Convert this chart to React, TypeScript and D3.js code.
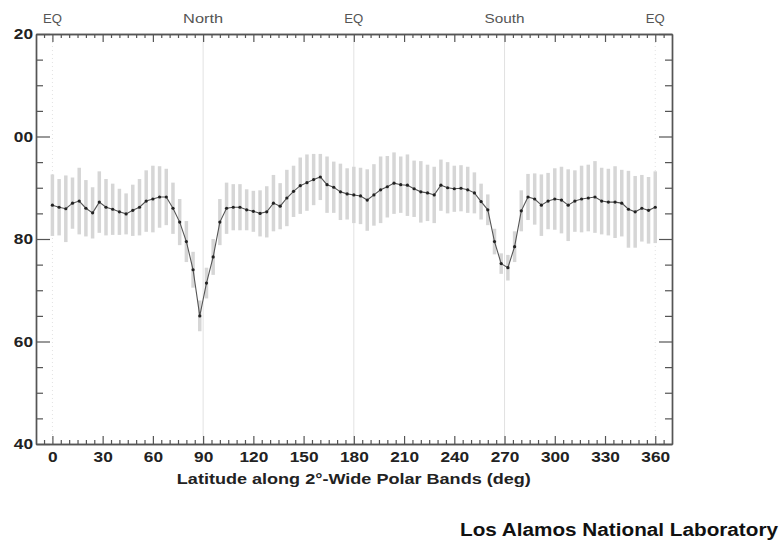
import React, { useRef, useEffect } from "react";
import * as d3 from "d3";

// band centres (deg along the polar band track)
const bands = [
  0, 4, 8, 12, 16, 20, 24, 28, 32, 36, 40, 44, 48, 52, 56, 60, 64, 68, 72, 76,
  80, 84, 88, 92, 96, 100, 104, 108, 112, 116, 120, 124, 128, 132, 136, 140,
  144, 148, 152, 156, 160, 164, 168, 172, 176, 180, 184, 188, 192, 196, 200,
  204, 208, 212, 216, 220, 224, 228, 232, 236, 240, 244, 248, 252, 256, 260,
  264, 268, 272, 276, 280, 284, 288, 292, 296, 300, 304, 308, 312, 316, 320,
  324, 328, 332, 336, 340, 344, 348, 352, 356, 360,
];

// mean value per band
const means = [
  86.6, 86.2, 85.9, 87.0, 87.4, 86.0, 85.1, 87.2, 86.2, 85.8, 85.3, 84.9, 85.6,
  86.2, 87.4, 87.8, 88.2, 88.2, 86.0, 83.3, 79.5, 74.0, 65.0, 71.4, 76.5, 83.3,
  86.0, 86.2, 86.2, 85.7, 85.4, 85.0, 85.3, 87.0, 86.4, 88.0, 89.3, 90.4, 91.0,
  91.6, 92.1, 90.6, 90.1, 89.2, 88.8, 88.6, 88.4, 87.6, 88.6, 89.6, 90.2, 90.9,
  90.6, 90.5, 89.8, 89.2, 89.0, 88.6, 90.5, 90.0, 89.8, 89.9, 89.6, 89.0, 87.3,
  85.7, 79.5, 75.2, 74.4, 78.5, 85.5, 88.2, 87.8, 86.6, 87.4, 87.8, 87.6, 86.6,
  87.4, 87.8, 88.0, 88.2, 87.4, 87.2, 87.2, 87.0, 85.8, 85.3, 86.0, 85.6, 86.2,
];

// spread (half height of the grey bars)
const spreads = [
  6, 5.5, 6.5, 5, 6.5, 5.5, 5, 6, 5.5, 5, 4.5, 4, 5, 5.5, 6, 6.5, 6, 5.5, 5,
  4.5, 4, 3.5, 3, 3, 3.5, 4.5, 5, 4.5, 4.5, 4, 4, 4.5, 5, 5.5, 4.5, 5.5, 5, 5.5,
  5.5, 5, 4.5, 5.5, 5, 5.5, 5, 5.5, 5.5, 6, 6, 6.5, 6, 6, 5.5, 6, 5.5, 6, 5.5,
  5.5, 5, 5, 4.5, 4.5, 4.5, 4, 3.5, 3, 2.5, 2, 2.5, 3, 4, 4.5, 5, 6, 5.5, 6,
  6.5, 7, 6, 6.5, 6.5, 7, 6.5, 6.5, 7, 6.5, 7.5, 7, 6.5, 6.5, 7,
];

const xTicks = [0, 30, 60, 90, 120, 150, 180, 210, 240, 270, 300, 330, 360];
const yTicks = [40, 60, 80, 100, 120];
const topLabels = [
  { deg: 0, name: "EQ" },
  { deg: 90, name: "North" },
  { deg: 180, name: "EQ" },
  { deg: 270, name: "South" },
  { deg: 360, name: "EQ" },
];

const App = () => {
  const svgRef = useRef<SVGSVGElement>(null);

  useEffect(() => {
    const W = 780;
    const H = 542;
    const margin = { top: 34, right: 108, bottom: 98, left: 36 };
    const width = W - margin.left - margin.right;
    const height = H - margin.top - margin.bottom;

    const svg = d3.select(svgRef.current);
    svg.selectAll("*").remove();

    svg.append("rect").attr("width", W).attr("height", H).attr("fill", "white");

    const chart = svg
      .append("g")
      .attr("transform", `translate(${margin.left}, ${margin.top})`);

    const x = d3.scaleLinear().domain([-9.8, 370]).range([0, width]);
    const y = d3.scaleLinear().domain([40, 120]).range([height, 0]);

    const data = bands.map((b, i) => ({ b, m: means[i], s: spreads[i] }));

    // faint reference lines at the equator / poles
    chart
      .selectAll(".ref")
      .data(topLabels)
      .enter()
      .append("line")
      .attr("x1", (d) => x(d.deg))
      .attr("x2", (d) => x(d.deg))
      .attr("y1", 0)
      .attr("y2", height)
      .attr("stroke", "#e2e2e2")
      .attr("stroke-width", 1)
      .attr("stroke-dasharray", (d) => (d.deg % 180 === 0 && d.deg !== 180 ? "1,3" : null));

    // grey spread bars
    chart
      .selectAll(".bar")
      .data(data)
      .enter()
      .append("line")
      .attr("x1", (d) => x(d.b))
      .attr("x2", (d) => x(d.b))
      .attr("y1", (d) => y(d.m + d.s))
      .attr("y2", (d) => y(d.m - d.s))
      .attr("stroke", "#d6d6d6")
      .attr("stroke-width", 3.5);

    // mean curve
    const line = d3
      .line<{ b: number; m: number }>()
      .x((d) => x(d.b))
      .y((d) => y(d.m));

    chart
      .append("path")
      .datum(data)
      .attr("d", line)
      .attr("fill", "none")
      .attr("stroke", "#555")
      .attr("stroke-width", 1.1);

    chart
      .selectAll(".pt")
      .data(data)
      .enter()
      .append("circle")
      .attr("cx", (d) => x(d.b))
      .attr("cy", (d) => y(d.m))
      .attr("r", 1.6)
      .attr("fill", "#222");

    // axes
    const font = "'Liberation Sans', Arial, sans-serif";
    const styleAxis = (g) => {
      g.select(".domain").attr("stroke", "#555").attr("stroke-width", 1.4);
      g.selectAll(".tick line").attr("stroke", "#555").attr("stroke-width", 1.2);
      g.selectAll("text")
        .attr("font-family", font)
        .attr("font-weight", "bold")
        .attr("font-size", 15)
        .attr("fill", "#222")
        .attr("lengthAdjust", "spacingAndGlyphs")
        .attr("textLength", function () {
          const t = (this as SVGTextElement).textContent || "";
          return t.length ? t.length * 9.6 : null;
        });
    };

    const minorX = d3.range(-5, 370, 5).filter((d) => d % 30 !== 0);
    const minorY = d3.range(40, 121, 5).filter((d) => d % 20 !== 0);

    // bottom
    chart
      .append("g")
      .attr("transform", `translate(0, ${height})`)
      .call(d3.axisBottom(x).tickValues(minorX).tickSize(-4).tickSizeOuter(0).tickFormat(() => ""))
      .call(styleAxis);
    chart
      .append("g")
      .attr("transform", `translate(0, ${height})`)
      .call(d3.axisBottom(x).tickValues(xTicks).tickSize(-8).tickSizeOuter(0).tickPadding(7))
      .call(styleAxis);

    // top
    chart
      .append("g")
      .call(d3.axisTop(x).tickValues(minorX).tickSize(-4).tickSizeOuter(0).tickFormat(() => ""))
      .call(styleAxis);
    chart
      .append("g")
      .call(d3.axisTop(x).tickValues(xTicks).tickSize(-8).tickSizeOuter(0).tickFormat(() => ""))
      .call(styleAxis);

    // left
    chart
      .append("g")
      .call(d3.axisLeft(y).tickValues(minorY).tickSize(-7).tickSizeOuter(0).tickFormat(() => ""))
      .call(styleAxis);
    chart
      .append("g")
      .call(
        d3
          .axisLeft(y)
          .tickValues(yTicks)
          .tickSize(-14)
          .tickSizeOuter(0)
          .tickPadding(3)
          .tickFormat((d) => String(d).slice(-2))
      )
      .call(styleAxis);

    // right
    chart
      .append("g")
      .attr("transform", `translate(${width}, 0)`)
      .call(d3.axisRight(y).tickValues(minorY).tickSize(-7).tickSizeOuter(0).tickFormat(() => ""))
      .call(styleAxis);
    chart
      .append("g")
      .attr("transform", `translate(${width}, 0)`)
      .call(d3.axisRight(y).tickValues(yTicks).tickSize(-13).tickSizeOuter(0).tickFormat(() => ""))
      .call(styleAxis);

    // top labels
    chart
      .selectAll(".toplab")
      .data(topLabels)
      .enter()
      .append("text")
      .attr("x", (d) => x(d.deg))
      .attr("y", -11)
      .attr("text-anchor", "middle")
      .attr("font-family", font)
      .attr("font-size", 13)
      .attr("fill", "#555")
      .attr("lengthAdjust", "spacingAndGlyphs")
      .attr("textLength", (d) => (d.name.length > 2 ? 40 : 19))
      .text((d) => d.name);

    // axis title
    chart
      .append("text")
      .attr("x", x(180))
      .attr("y", height + 40)
      .attr("text-anchor", "middle")
      .attr("font-family", font)
      .attr("font-weight", "bold")
      .attr("font-size", 14.5)
      .attr("fill", "#222")
      .attr("lengthAdjust", "spacingAndGlyphs")
      .attr("textLength", 354)
      .text("Latitude along 2°-Wide Polar Bands (deg)");

    svg
      .append("text")
      .attr("x", 778)
      .attr("y", 536)
      .attr("text-anchor", "end")
      .attr("font-family", font)
      .attr("font-weight", "bold")
      .attr("font-size", 18)
      .attr("fill", "#111")
      .attr("lengthAdjust", "spacingAndGlyphs")
      .attr("textLength", 318)
      .text("Los Alamos National Laboratory");
  }, []);

  return (
    <svg
      ref={svgRef}
      width={780}
      height={542}
      style={{ position: "absolute", left: 0, top: 0 }}
    ></svg>
  );
};

export default App;
